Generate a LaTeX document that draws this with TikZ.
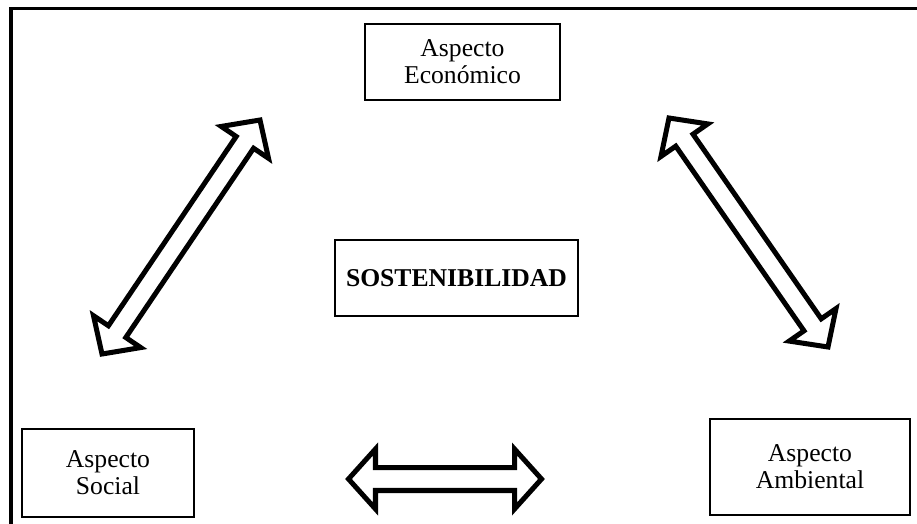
\documentclass[tikz,border=0pt]{standalone}
\usepackage{fontspec}
\setmainfont{Liberation Serif}
\usetikzlibrary{calc}
\tikzset{
  aspbox/.style={draw=black, line width=1pt, fill=white, inner sep=0pt, align=center,
    font=\fontsize{14.6}{15.4}\selectfont},
  dblarr/.style={draw=black, fill=white, line width=2.85pt, line join=miter, miter limit=10},
  frameline/.style={draw=black, line width=2.1pt, line cap=rect}
}
% #1,#2 tip coordinates, #3 shaft half width, #4 head half width, #5 head length
\newcommand\dblarrow[5]{%
  \coordinate (#1-p) at ($(#1)!#5!(#2)$);
  \coordinate (#1-q) at ($(#2)!#5!(#1)$);
  \draw[dblarr] (#1) -- ($(#1-p)!#4!-90:(#2)$) -- ($(#1-p)!#3!-90:(#2)$)
    -- ($(#1-q)!#3!90:(#1)$) -- ($(#1-q)!#4!90:(#1)$) -- (#2)
    -- ($(#1-q)!#4!-90:(#1)$) -- ($(#1-q)!#3!-90:(#1)$)
    -- ($(#1-p)!#3!90:(#2)$) -- ($(#1-p)!#4!90:(#2)$) -- cycle;
}
\begin{document}
\begin{tikzpicture}[x=0.02cm, y=-0.02cm]
\useasboundingbox (0,0) rectangle (917,524);
\fill[white] (0,0) rectangle (917,524);
% outer frame (left and top edges visible)
\coordinate (f1) at (11,524);
\coordinate (f2) at (11,8.5);
\coordinate (f3) at (917,8.5);
\draw[frameline] (f1) -- (f2) -- (f3);

% boxes
\node[aspbox, minimum width=3.9cm, minimum height=1.52cm] (eco) at (462.5,62) {Aspecto\\Económico};
\node[aspbox, minimum width=3.44cm, minimum height=1.76cm] (soc) at (108,473) {Aspecto\\Social};
\node[aspbox, minimum width=4.0cm, minimum height=1.92cm] (amb) at (810,467) {Aspecto\\Ambiental};
\node[aspbox, minimum width=4.86cm, minimum height=1.52cm, font=\fontsize{14.6}{15.4}\selectfont\bfseries] (sos) at (456.5,278) {SOSTENIBILIDAD};

% double arrows
\coordinate (la1) at (102,354);
\coordinate (la2) at (260,120);
\dblarrow{la1}{la2}{0.21cm}{0.57cm}{0.54cm}

\coordinate (ra1) at (669,118);
\coordinate (ra2) at (828,347);
\dblarrow{ra1}{ra2}{0.21cm}{0.57cm}{0.54cm}

\coordinate (ha1) at (348.5,479);
\coordinate (ha2) at (541.5,479);
\dblarrow{ha1}{ha2}{0.23cm}{0.6cm}{0.54cm}
\end{tikzpicture}
\end{document}
